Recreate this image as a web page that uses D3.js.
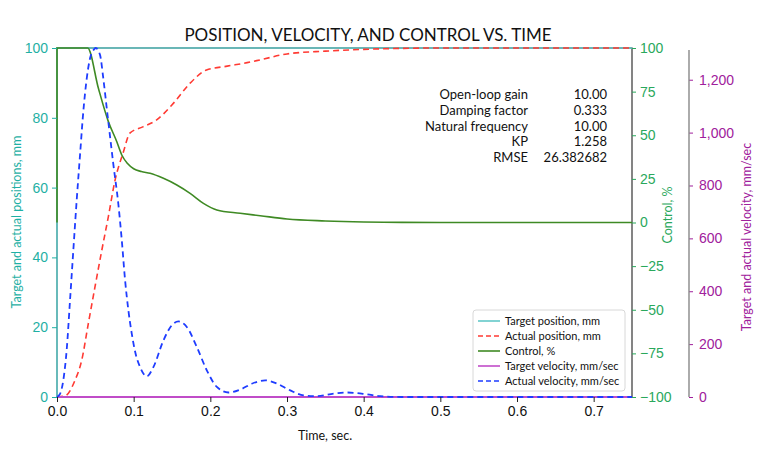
<!DOCTYPE html>
<html><head><meta charset="utf-8">
<script src="https://cdn.jsdelivr.net/npm/d3@7"></script>
<style>
body{margin:0;background:#fff;}
svg{font-family:"Lato","Open Sans",sans-serif;}
</style></head>
<body><svg id="chart" width="770" height="457"></svg>
<script>
// ---- data ----
const targetPosT = [0, 0, 0.75];
const targetPosV = [0, 100, 100];
const actualPosT = [0, 0.0104, 0.0235, 0.0322, 0.0409, 0.0496, 0.0584, 0.067, 0.0757, 0.0866, 0.095, 0.112, 0.130, 0.152, 0.174, 0.195, 0.222, 0.248, 0.265, 0.30, 0.35, 0.40, 0.45, 0.50, 0.75];
const actualPosV = [0, 0.3, 4.8, 10.5, 21.1, 31.6, 42, 51.7, 62.1, 70.2, 75.6, 77.4, 79.4, 84.2, 90, 93.7, 94.8, 95.8, 96.6, 98.3, 99.1, 99.6, 99.9, 100, 100];
const controlT = [0, 0, 0.040, 0.054, 0.067, 0.078, 0.0845, 0.092, 0.1, 0.11, 0.1214, 0.1388, 0.1563, 0.1736, 0.191, 0.2085, 0.2389, 0.265, 0.30, 0.35, 0.40, 0.45, 0.50, 0.75];
const controlV = [0, 100, 100, 76.9, 57.8, 46.3, 38.7, 33.8, 30.8, 29.2, 28.2, 25.3, 21.5, 16.7, 11, 7.2, 5.3, 3.9, 2.0, 0.9, 0.3, 0.1, 0, 0];
const targetVelT = [0, 0.75];
const targetVelV = [0, 0];
const actualVelT = [0, 0.004, 0.0082, 0.0126, 0.017, 0.0213, 0.0257, 0.030, 0.0343, 0.0388, 0.0431, 0.0487, 0.0505, 0.0561, 0.0604, 0.0649, 0.0692, 0.0735, 0.080, 0.0845, 0.0888, 0.0931, 0.0975, 0.102, 0.1084, 0.1171, 0.1257, 0.1388, 0.1497, 0.1584, 0.1693, 0.1824, 0.1954, 0.2085, 0.2237, 0.2389, 0.2563, 0.2715, 0.2868, 0.3042, 0.3216, 0.339, 0.3607, 0.3781, 0.4042, 0.4216, 0.45, 0.75];
const actualVelV = [0, 12, 63, 177, 366, 555, 745, 914, 1079, 1205, 1281, 1316, 1320, 1294, 1205, 1092, 985, 880, 730, 593, 442, 328, 240, 170, 113, 78, 113, 214, 271, 286, 265, 189, 101, 38, 17, 28, 53, 63, 51, 25, 6, 3, 13, 17, 10, 3, 0, 0];
const timeTicks = [0, 0.1, 0.2, 0.3, 0.4, 0.5, 0.6, 0.7];
const posTicks = [0, 20, 40, 60, 80, 100];
const ctrlTicks = [-100, -75, -50, -25, 0, 25, 50, 75, 100];
const velTicks = [0, 200, 400, 600, 800, 1000, 1200];
const infoLabels = ["Open-loop gain", "Damping factor", "Natural frequency", "KP", "RMSE"];
const infoValues = ["10.00", "0.333", "10.00", "1.258", "26.382682"];
const legendNames = ["Target position, mm", "Actual position, mm", "Control, %", "Target velocity, mm/sec", "Actual velocity, mm/sec"];

// ---- layout ----
const L = 57, R = 632, T = 48, B = 397;
const colTeal = "#1fb0a4", colCtrlAx = "#2aa85c", colVelAx = "#a0209c";
const cTargetPos = "#62c8c8", cActualPos = "#ff3a33", cCtrl = "#3f8a24", cTargetVel = "#c04cc8", cActualVel = "#1e3cff";

const svg = d3.select("#chart");
const x = d3.scaleLinear().domain([0, 0.75]).range([L, R]);
const yPos = d3.scaleLinear().domain([0, 100]).range([B, T]);
const yCtrl = d3.scaleLinear().domain([-100, 100]).range([B, T]);
const yVel = d3.scaleLinear().domain([0, 1320]).range([B, T]);

svg.append("defs").append("clipPath").attr("id", "clip")
  .append("rect").attr("x", L - 1).attr("y", T - 1.5).attr("width", R - L + 2).attr("height", B - T + 3);

// frame
svg.append("rect").attr("x", L).attr("y", T).attr("width", R - L).attr("height", B - T)
  .attr("fill", "none").attr("stroke", "#333").attr("stroke-width", 1.2);

function zip(t, v) { return t.map((d, i) => [d, v[i]]); }
const g = svg.append("g").attr("clip-path", "url(#clip)");
function drawLine(t, v, ys, color, dash, w) {
  const line = d3.line().x(d => x(d[0])).y(d => ys(d[1])).curve(d3.curveMonotoneX);
  g.append("path").datum(zip(t, v)).attr("d", line).attr("fill", "none")
    .attr("stroke", color).attr("stroke-width", w).attr("stroke-dasharray", dash || null);
}
drawLine(targetPosT, targetPosV, yPos, cTargetPos, null, 1.6);
drawLine(actualPosT, actualPosV, yPos, cActualPos, "6,4", 1.6);
drawLine(controlT, controlV, yCtrl, cCtrl, null, 1.6);
drawLine(targetVelT, targetVelV, yVel, cTargetVel, null, 1.8);
drawLine(actualVelT, actualVelV, yVel, cActualVel, "6,4", 1.8);

// axes
const fs = "14px";
const axB = svg.append("g").attr("transform", `translate(0,${B})`)
  .call(d3.axisBottom(x).tickValues(timeTicks).tickFormat(d3.format(".1f")).tickSize(5).tickPadding(4));
axB.select(".domain").remove();
axB.selectAll("line").attr("stroke", "#222");
axB.selectAll("text").attr("fill", "#111").style("font-size", fs).style("font-family", "inherit");

const axL = svg.append("g").attr("transform", `translate(${L},0)`)
  .call(d3.axisLeft(yPos).tickValues(posTicks).tickSize(5).tickPadding(4));
axL.select(".domain").remove();
axL.selectAll("line").attr("stroke", colTeal);
axL.selectAll("text").attr("fill", colTeal).style("font-size", fs).style("font-family", "inherit");

const axC = svg.append("g").attr("transform", `translate(${R},0)`)
  .call(d3.axisRight(yCtrl).tickValues(ctrlTicks).tickSize(4).tickPadding(4).tickFormat(d => d < 0 ? "\u2212" + Math.abs(d) : d));
axC.select(".domain").remove();
axC.selectAll("line").attr("stroke", colCtrlAx);
axC.selectAll("text").attr("fill", colCtrlAx).style("font-size", fs).style("font-family", "inherit");

const VX = 689;
const axV = svg.append("g").attr("transform", `translate(${VX},0)`)
  .call(d3.axisRight(yVel).tickValues(velTicks).tickSize(4).tickPadding(6).tickFormat(d3.format(",")));
axV.select(".domain").remove();
svg.append("line").attr("x1", VX).attr("x2", VX).attr("y1", 50).attr("y2", B).attr("stroke", "#888").attr("stroke-width", 1.4);
axV.selectAll("line").attr("stroke", colVelAx);
axV.selectAll("text").attr("fill", colVelAx).style("font-size", fs).style("font-family", "inherit");

// titles
svg.append("text").attr("x", 368).attr("y", 41).attr("text-anchor", "middle")
  .style("font-size", "17px").attr("fill", "#111").text("POSITION, VELOCITY, AND CONTROL VS. TIME");
svg.append("text").attr("x", 325).attr("y", 440).attr("text-anchor", "middle")
  .style("font-size", "12.5px").attr("fill", "#111").text("Time, sec.");
svg.append("text").attr("transform", "translate(21,222) rotate(-90)").attr("text-anchor", "middle")
  .style("font-size", "12.5px").attr("fill", colTeal).text("Target and actual positions, mm");
svg.append("text").attr("transform", "translate(672,215) rotate(-90)").attr("text-anchor", "middle")
  .style("font-size", "12.5px").attr("fill", colCtrlAx).text("Control, %");
svg.append("text").attr("transform", "translate(751,237) rotate(-90)").attr("text-anchor", "middle")
  .style("font-size", "12.5px").attr("fill", colVelAx).text("Target and actual velocity, mm/sec");

// info block
infoLabels.forEach((lab, i) => {
  const yy = 99 + i * 15.8;
  svg.append("text").attr("x", 528).attr("y", yy).attr("text-anchor", "end").style("font-size", "13px").attr("fill", "#111").text(lab);
  svg.append("text").attr("x", 607).attr("y", yy).attr("text-anchor", "end").style("font-size", "13px").attr("fill", "#111").text(infoValues[i]);
});

// legend
const lg = svg.append("g");
lg.append("rect").attr("x", 473).attr("y", 310).attr("width", 152).attr("height", 81).attr("rx", 3)
  .attr("fill", "#fff").attr("fill-opacity", 0.85).attr("stroke", "#d8d8d8");
const legColors = [cTargetPos, cActualPos, cCtrl, cTargetVel, cActualVel];
const legDash = [null, "5,3", null, null, "5,3"];
legendNames.forEach((n, i) => {
  const yy = 321 + i * 15;
  lg.append("line").attr("x1", 478).attr("x2", 500).attr("y1", yy).attr("y2", yy)
    .attr("stroke", legColors[i]).attr("stroke-width", 1.6).attr("stroke-dasharray", legDash[i]);
  lg.append("text").attr("x", 505).attr("y", yy + 4).style("font-size", "11px").attr("fill", "#111").text(n);
});
</script></body></html>
